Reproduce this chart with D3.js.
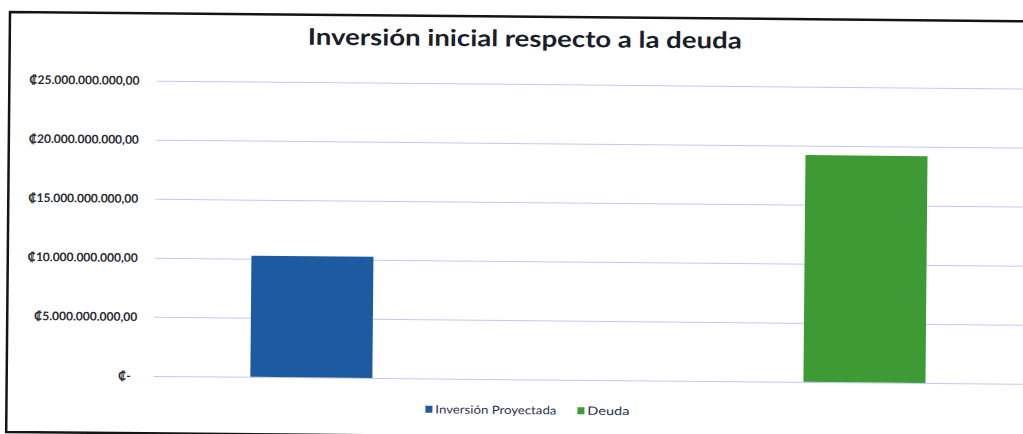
<!DOCTYPE html>
<html>
<head>
<meta charset="utf-8">
<script src="https://cdn.jsdelivr.net/npm/d3@7"></script>
<style>
  html, body { margin: 0; padding: 0; background: #fff; overflow: hidden; }
  svg { display: block; }
</style>
</head>
<body>
<div id="chart"></div>
<script>
// values
var categories = ["Inversión Proyectada", "Deuda"]
var values = [10250000000, 19200000000]
var barColors = ["#1d5a9f", "#3d9a35"]
var tickValues = [0, 5000000000, 10000000000, 15000000000, 20000000000, 25000000000]
var tickLabels = ["₡-\u00a0\u00a0", "₡5.000.000.000,00", "₡10.000.000.000,00", "₡15.000.000.000,00", "₡20.000.000.000,00", "₡25.000.000.000,00"]
var chartTitle = "Inversión inicial respecto a la deuda"

var W = 1023, H = 434
var plot = {left: 157, right: 1040, top: 79.3, bottom: 374.6}

var svg = d3.select("#chart").append("svg")
  .attr("width", W)
  .attr("height", H)

svg.append("rect").attr("width", W).attr("height", H).attr("fill", "#fff")

// the source is a slightly tilted scan
var g = svg.append("g").attr("transform", "rotate(0.52,10,12)")

// frame: only top, left and bottom edges are inside the picture
g.append("path")
  .attr("d", "M1100,12 L10,12 L10,432 L1100,432")
  .attr("fill", "none")
  .attr("stroke", "#141414")
  .attr("stroke-width", 2.5)

var y = d3.scaleLinear()
  .domain([0, 25000000000])
  .range([plot.bottom, plot.top])

var x = d3.scaleBand()
  .domain(categories)
  .range([plot.left, 1018])
  .paddingInner(0.7794)
  .paddingOuter(0.168)
  .align(0.52)

var yAxis = g.append("g")
  .attr("transform", "translate(" + plot.left + ",0)")
  .call(d3.axisLeft(y)
    .tickValues(tickValues)
    .tickFormat((d, i) => tickLabels[i])
    .tickSize(-(plot.right - plot.left))
    .tickPadding(17))

yAxis.select(".domain").remove()
yAxis.selectAll(".tick line")
  .attr("stroke", "#c2c9f0")
  .attr("stroke-width", 1)
yAxis.selectAll(".tick text")
  .attr("fill", "#2a2a33")
  .style("font-family", "Lato, 'DejaVu Sans', sans-serif")
  .style("font-size", "12px")
  .style("font-weight", "bold")

// bars
g.selectAll(".bar")
  .data(categories)
  .enter()
  .append("rect")
  .attr("class", "bar")
  .attr("x", d => x(d))
  .attr("y", (d, i) => y(values[i]))
  .attr("width", x.bandwidth())
  .attr("height", (d, i) => y(0) - y(values[i]))
  .attr("fill", (d, i) => barColors[i])

// title (scan is stretched sideways, so the text is widened to match)
g.append("text")
  .attr("x", 525)
  .attr("y", 42)
  .attr("text-anchor", "middle")
  .attr("fill", "#1a1d2a")
  .attr("textLength", 434)
  .attr("lengthAdjust", "spacingAndGlyphs")
  .style("font-family", "Lato, 'Open Sans', sans-serif")
  .style("font-size", "23px")
  .style("font-weight", "bold")
  .text(chartTitle)

// legend
var legendWidths = [121, 42]
var legend = g.append("g").attr("transform", "translate(429,405.5)")
var lx = 0
categories.forEach((c, i) => {
  var item = legend.append("g").attr("transform", "translate(" + lx + ",0)")
  item.append("rect")
    .attr("x", 0).attr("y", -3.5)
    .attr("width", 7).attr("height", 7)
    .attr("fill", barColors[i])
  item.append("text")
    .attr("x", 10)
    .attr("y", 4)
    .attr("fill", "#2b3150")
    .attr("textLength", legendWidths[i])
    .attr("lengthAdjust", "spacingAndGlyphs")
    .style("font-family", "Lato, 'DejaVu Sans', sans-serif")
    .style("font-size", "11.5px")
    .text(c)
  lx += 10 + legendWidths[i] + 21
})
</script>
</body>
</html>
